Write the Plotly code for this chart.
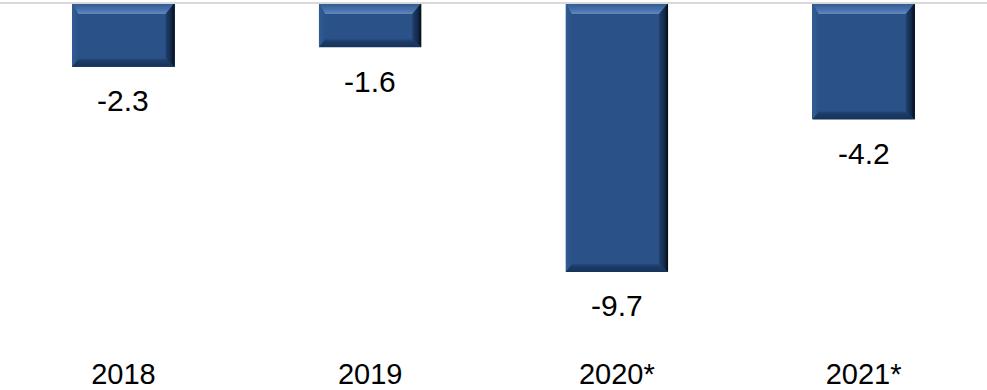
import plotly.graph_objects as go

# Data
categories = ["2018", "2019", "2020*", "2021*"]
values = [-2.3, -1.6, -9.7, -4.2]

# Canvas / layout constants
W, H = 987, 390
M_T, M_B = 0, 40
PLOT_H = H - M_T - M_B
PX_PER_UNIT = 27.73          # vertical pixels per data unit
ZERO_PX = 3                  # zero line distance from the top of the plot
Y_TOP = ZERO_PX / PX_PER_UNIT
Y_BOT = Y_TOP - PLOT_H / PX_PER_UNIT
PX_PER_CAT = W / len(categories)
BAR_W = 0.415

FACE = "#2a5288"
FONT = "Liberation Sans, Arial, sans-serif"

x = list(range(len(categories)))

fig = go.Figure()
fig.add_trace(go.Bar(
    x=x, y=values, width=BAR_W,
    marker=dict(color=FACE, line=dict(width=0)),
    hoverinfo="skip", showlegend=False,
))


def px_x(p):
    return p / PX_PER_CAT


def px_y(p):
    return p / PX_PER_UNIT


# Bevel sizes in pixels
B_TOP, B_BOT, B_LEFT, B_RIGHT = 11, 8, 6, 9


def bevel(xs, ys, gtype, scale, start=None, stop=None):
    grad = dict(type=gtype, colorscale=scale)
    if start is not None:
        grad["start"] = start
        grad["stop"] = stop
    fig.add_trace(go.Scatter(
        x=xs + [xs[0]], y=ys + [ys[0]], mode="lines", fill="toself",
        line=dict(width=0), fillgradient=grad,
        hoverinfo="skip", showlegend=False,
    ))


for xi, v in zip(x, values):
    x0, x1 = xi - BAR_W / 2, xi + BAR_W / 2
    yt, yb = 0.0, v
    lx, rx = px_x(B_LEFT), px_x(B_RIGHT)
    ty, by = px_y(B_TOP), px_y(B_BOT)
    # top bevel (lighter toward the inner edge)
    bevel([x0, x1, x1 - rx, x0 + lx], [yt, yt, yt - ty, yt - ty], "vertical",
          [[0, "#6189bf"], [0.35, "#4a73ab"], [1, "#2f5890"]], yt - ty, yt)
    # bottom bevel (darker)
    bevel([x0, x0 + lx, x1 - rx, x1], [yb, yb + by, yb + by, yb], "vertical",
          [[0, "#173259"], [0.7, "#1c3b68"], [1, "#23487a"]], yb, yb + by)
    # left bevel
    bevel([x0, x0 + lx, x0 + lx, x0], [yt, yt - ty, yb + by, yb], "horizontal",
          [[0, "#315c96"], [1, "#2a5288"]], x0, x0 + lx)
    # right bevel (fades to near black at the edge)
    bevel([x1, x1 - rx, x1 - rx, x1], [yt, yt - ty, yb + by, yb], "horizontal",
          [[0, "#203f6b"], [0.6, "#132a4a"], [1, "#040a14"]], x1 - rx, x1)

# Zero line across the full width
fig.add_shape(type="line", xref="paper", x0=0, x1=1, yref="y", y0=0, y1=0,
              line=dict(color="#d9d9d9", width=2), layer="above")

# Value labels under each bar
for xi, v in zip(x, values):
    fig.add_annotation(x=xi, y=v, text=f"{v:.1f}", showarrow=False,
                       yanchor="middle", yshift=-34,
                       font=dict(family=FONT, size=30, color="#000000"))

fig.update_layout(
    width=W, height=H,
    margin=dict(l=0, r=0, t=M_T, b=M_B),
    paper_bgcolor="white", plot_bgcolor="white",
    bargap=0,
    xaxis=dict(range=[-0.5, len(categories) - 0.5], tickvals=x,
               ticktext=categories, showgrid=False, zeroline=False,
               showline=False, ticks="", ticklabelstandoff=4,
               tickfont=dict(family=FONT, size=29, color="#000000")),
    yaxis=dict(range=[Y_BOT, Y_TOP], visible=False, showgrid=False,
               zeroline=False),
    showlegend=False,
)

fig.write_html("out.html")
